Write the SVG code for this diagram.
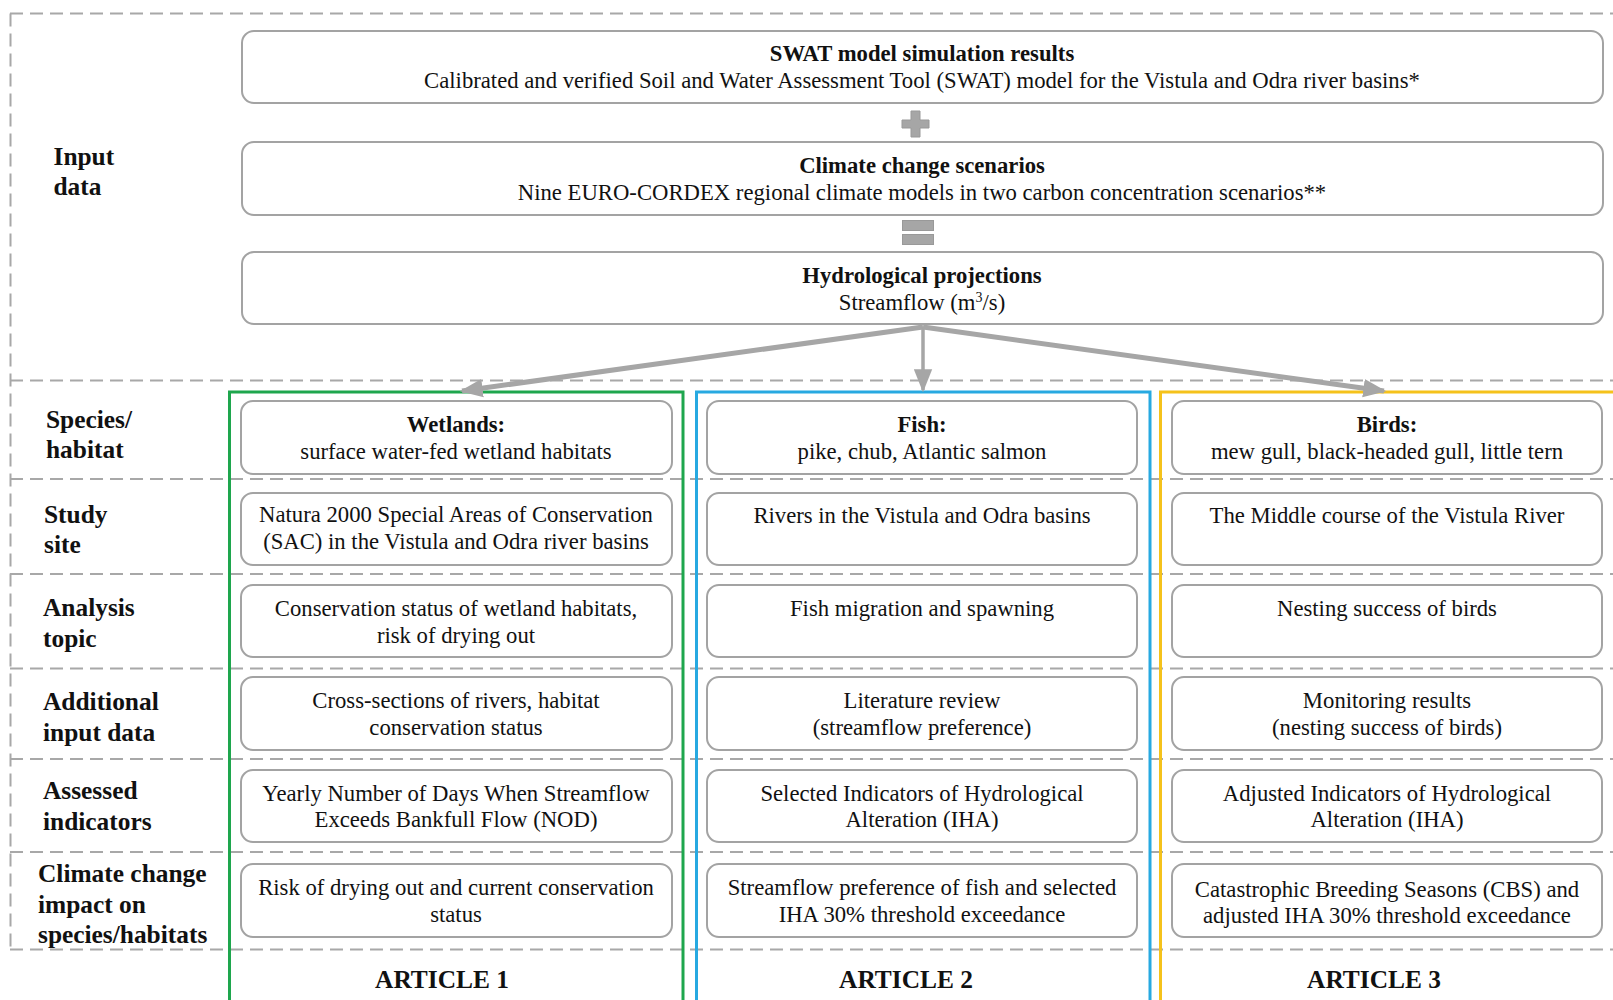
<svg xmlns="http://www.w3.org/2000/svg" width="1613" height="1000" viewBox="0 0 1613 1000">
<style>
.dash{stroke:#a8a8a8;stroke-width:2;stroke-dasharray:13 7;fill:none}
.box{fill:#fff;stroke:#a3a3a3;stroke-width:2}
.t{font-family:"Liberation Serif","Times New Roman",serif;font-size:22.7px;fill:#111;text-anchor:middle}
.b{font-weight:bold}
.lbl{font-family:"Liberation Serif","Times New Roman",serif;font-size:25.4px;font-weight:bold;fill:#111}
.art{font-family:"Liberation Serif","Times New Roman",serif;font-size:25.4px;font-weight:bold;fill:#111;text-anchor:middle}
.conn{stroke:#a6a6a6;fill:none}
.sym{fill:#a6a6a6;stroke:#999;stroke-width:1}
</style>
<defs>
<marker id="ah" markerUnits="userSpaceOnUse" viewBox="0 0 20 16" refX="18" refY="8" markerWidth="23" markerHeight="19" orient="auto">
<path d="M0,0 L20,8 L0,16 Z" fill="#a6a6a6"/>
</marker>
</defs>
<rect width="1613" height="1000" fill="#fff"/>

<g id="frame">
<line class="dash" x1="10" y1="13.5" x2="1613" y2="13.5"/>
<line class="dash" x1="10.5" y1="13.5" x2="10.5" y2="949.5"/>
<line class="dash" x1="10" y1="380.5" x2="1613" y2="380.5"/>
<line class="dash" x1="10" y1="479" x2="1613" y2="479"/>
<line class="dash" x1="10" y1="574" x2="1613" y2="574"/>
<line class="dash" x1="10" y1="668.5" x2="1613" y2="668.5"/>
<line class="dash" x1="10" y1="759" x2="1613" y2="759"/>
<line class="dash" x1="10" y1="852" x2="1613" y2="852"/>
<line class="dash" x1="10" y1="949.5" x2="1613" y2="949.5"/>
</g>

<g id="row-labels">
<text class="lbl" x="53.5" y="164.5">Input</text>
<text class="lbl" x="53.5" y="194.5">data</text>
<text class="lbl" x="46" y="428">Species/</text>
<text class="lbl" x="46" y="458">habitat</text>
<text class="lbl" x="44" y="522.5">Study</text>
<text class="lbl" x="44" y="553">site</text>
<text class="lbl" x="43" y="616">Analysis</text>
<text class="lbl" x="43" y="647">topic</text>
<text class="lbl" x="43" y="710">Additional</text>
<text class="lbl" x="43" y="740.5">input data</text>
<text class="lbl" x="43" y="799">Assessed</text>
<text class="lbl" x="43" y="830">indicators</text>
<text class="lbl" x="38" y="881.5">Climate change</text>
<text class="lbl" x="38" y="912.5">impact on</text>
<text class="lbl" x="38" y="943">species/habitats</text>
</g>

<g id="article1">
<rect x="229.5" y="392" width="453.5" height="640" fill="none" stroke="#1ea64d" stroke-width="3"/>
<text class="art" x="442" y="987.5">ARTICLE 1</text>
</g>
<g id="article2">
<rect x="696.5" y="392" width="453.5" height="640" fill="none" stroke="#27a9e1" stroke-width="3"/>
<text class="art" x="906" y="987.5">ARTICLE 2</text>
</g>
<g id="article3">
<rect x="1160.5" y="392" width="480" height="640" fill="none" stroke="#f5c21b" stroke-width="3"/>
<text class="art" x="1374" y="987.5">ARTICLE 3</text>
</g>

<g id="swat">
<rect class="box" x="242" y="31" width="1361" height="72" rx="12"/>
<text class="t b" x="922" y="60.5">SWAT model simulation results</text>
<text class="t" x="922" y="87.5">Calibrated and verified Soil and Water Assessment Tool (SWAT) model for the Vistula and Odra river basins*</text>
</g>
<g id="plus">
<path class="sym" d="M911,111 H920 V120 H929 V128 H920 V137 H911 V128 H902 V120 H911 Z"/>
</g>
<g id="climate">
<rect class="box" x="242" y="142" width="1361" height="73" rx="12"/>
<text class="t b" x="922" y="172.5">Climate change scenarios</text>
<text class="t" x="922" y="199.5">Nine EURO-CORDEX regional climate models in two carbon concentration scenarios**</text>
</g>
<g id="equals">
<rect class="sym" x="902.5" y="220.5" width="31" height="10"/>
<rect class="sym" x="902.5" y="234.5" width="31" height="10"/>
</g>
<g id="hydro">
<rect class="box" x="242" y="252" width="1361" height="72" rx="12"/>
<text class="t b" x="922" y="283">Hydrological projections</text>
<text class="t" x="922" y="309.5">Streamflow (m<tspan font-size="14" dy="-8">3</tspan><tspan dy="8">/s)</tspan></text>
</g>

<g id="connectors">
<line class="conn" stroke-width="5" x1="923" y1="327" x2="462" y2="391" marker-end="url(#ah)"/>
<line class="conn" stroke-width="3.5" x1="923" y1="327" x2="923" y2="390" marker-end="url(#ah)"/>
<line class="conn" stroke-width="5" x1="923" y1="327" x2="1384" y2="391" marker-end="url(#ah)"/>
</g>

<g id="wetlands-species">
<rect class="box" x="241" y="401" width="431" height="73" rx="12"/>
<text class="t b" x="456" y="432">Wetlands:</text>
<text class="t" x="456" y="459">surface water-fed wetland habitats</text>
</g>
<g id="wetlands-site">
<rect class="box" x="241" y="493" width="431" height="72" rx="12"/>
<text class="t" x="456" y="521.5">Natura 2000 Special Areas of Conservation</text>
<text class="t" x="456" y="548.5">(SAC) in the Vistula and Odra river basins</text>
</g>
<g id="wetlands-topic">
<rect class="box" x="241" y="585" width="431" height="72" rx="12"/>
<text class="t" x="456" y="616">Conservation status of wetland habitats,</text>
<text class="t" x="456" y="643">risk of drying out</text>
</g>
<g id="wetlands-data">
<rect class="box" x="241" y="677" width="431" height="73" rx="12"/>
<text class="t" x="456" y="707.5">Cross-sections of rivers, habitat</text>
<text class="t" x="456" y="734.5">conservation status</text>
</g>
<g id="wetlands-ind">
<rect class="box" x="241" y="770" width="431" height="72" rx="12"/>
<text class="t" x="456" y="800.5">Yearly Number of Days When Streamflow</text>
<text class="t" x="456" y="827">Exceeds Bankfull Flow (NOD)</text>
</g>
<g id="wetlands-impact">
<rect class="box" x="241" y="864" width="431" height="73" rx="12"/>
<text class="t" x="456" y="895">Risk of drying out and current conservation</text>
<text class="t" x="456" y="921.5">status</text>
</g>

<g id="fish-species">
<rect class="box" x="707" y="401" width="430" height="73" rx="12"/>
<text class="t b" x="922" y="432">Fish:</text>
<text class="t" x="922" y="459">pike, chub, Atlantic salmon</text>
</g>
<g id="fish-site">
<rect class="box" x="707" y="493" width="430" height="72" rx="12"/>
<text class="t" x="922" y="523">Rivers in the Vistula and Odra basins</text>
</g>
<g id="fish-topic">
<rect class="box" x="707" y="585" width="430" height="72" rx="12"/>
<text class="t" x="922" y="616">Fish migration and spawning</text>
</g>
<g id="fish-data">
<rect class="box" x="707" y="677" width="430" height="73" rx="12"/>
<text class="t" x="922" y="707.5">Literature review</text>
<text class="t" x="922" y="734.5">(streamflow preference)</text>
</g>
<g id="fish-ind">
<rect class="box" x="707" y="770" width="430" height="72" rx="12"/>
<text class="t" x="922" y="800.5">Selected Indicators of Hydrological</text>
<text class="t" x="922" y="827">Alteration (IHA)</text>
</g>
<g id="fish-impact">
<rect class="box" x="707" y="864" width="430" height="73" rx="12"/>
<text class="t" x="922" y="895">Streamflow preference of fish and selected</text>
<text class="t" x="922" y="921.5">IHA 30% threshold exceedance</text>
</g>

<g id="birds-species">
<rect class="box" x="1172" y="401" width="430" height="73" rx="12"/>
<text class="t b" x="1387" y="432">Birds:</text>
<text class="t" x="1387" y="459">mew gull, black-headed gull, little tern</text>
</g>
<g id="birds-site">
<rect class="box" x="1172" y="493" width="430" height="72" rx="12"/>
<text class="t" x="1387" y="523">The Middle course of the Vistula River</text>
</g>
<g id="birds-topic">
<rect class="box" x="1172" y="585" width="430" height="72" rx="12"/>
<text class="t" x="1387" y="616">Nesting success of birds</text>
</g>
<g id="birds-data">
<rect class="box" x="1172" y="677" width="430" height="73" rx="12"/>
<text class="t" x="1387" y="707.5">Monitoring results</text>
<text class="t" x="1387" y="734.5">(nesting success of birds)</text>
</g>
<g id="birds-ind">
<rect class="box" x="1172" y="770" width="430" height="72" rx="12"/>
<text class="t" x="1387" y="800.5">Adjusted Indicators of Hydrological</text>
<text class="t" x="1387" y="827">Alteration (IHA)</text>
</g>
<g id="birds-impact">
<rect class="box" x="1172" y="864" width="430" height="73" rx="12"/>
<text class="t" x="1387" y="896.5">Catastrophic Breeding Seasons (CBS) and</text>
<text class="t" x="1387" y="923">adjusted IHA 30% threshold exceedance</text>
</g>
</svg>
